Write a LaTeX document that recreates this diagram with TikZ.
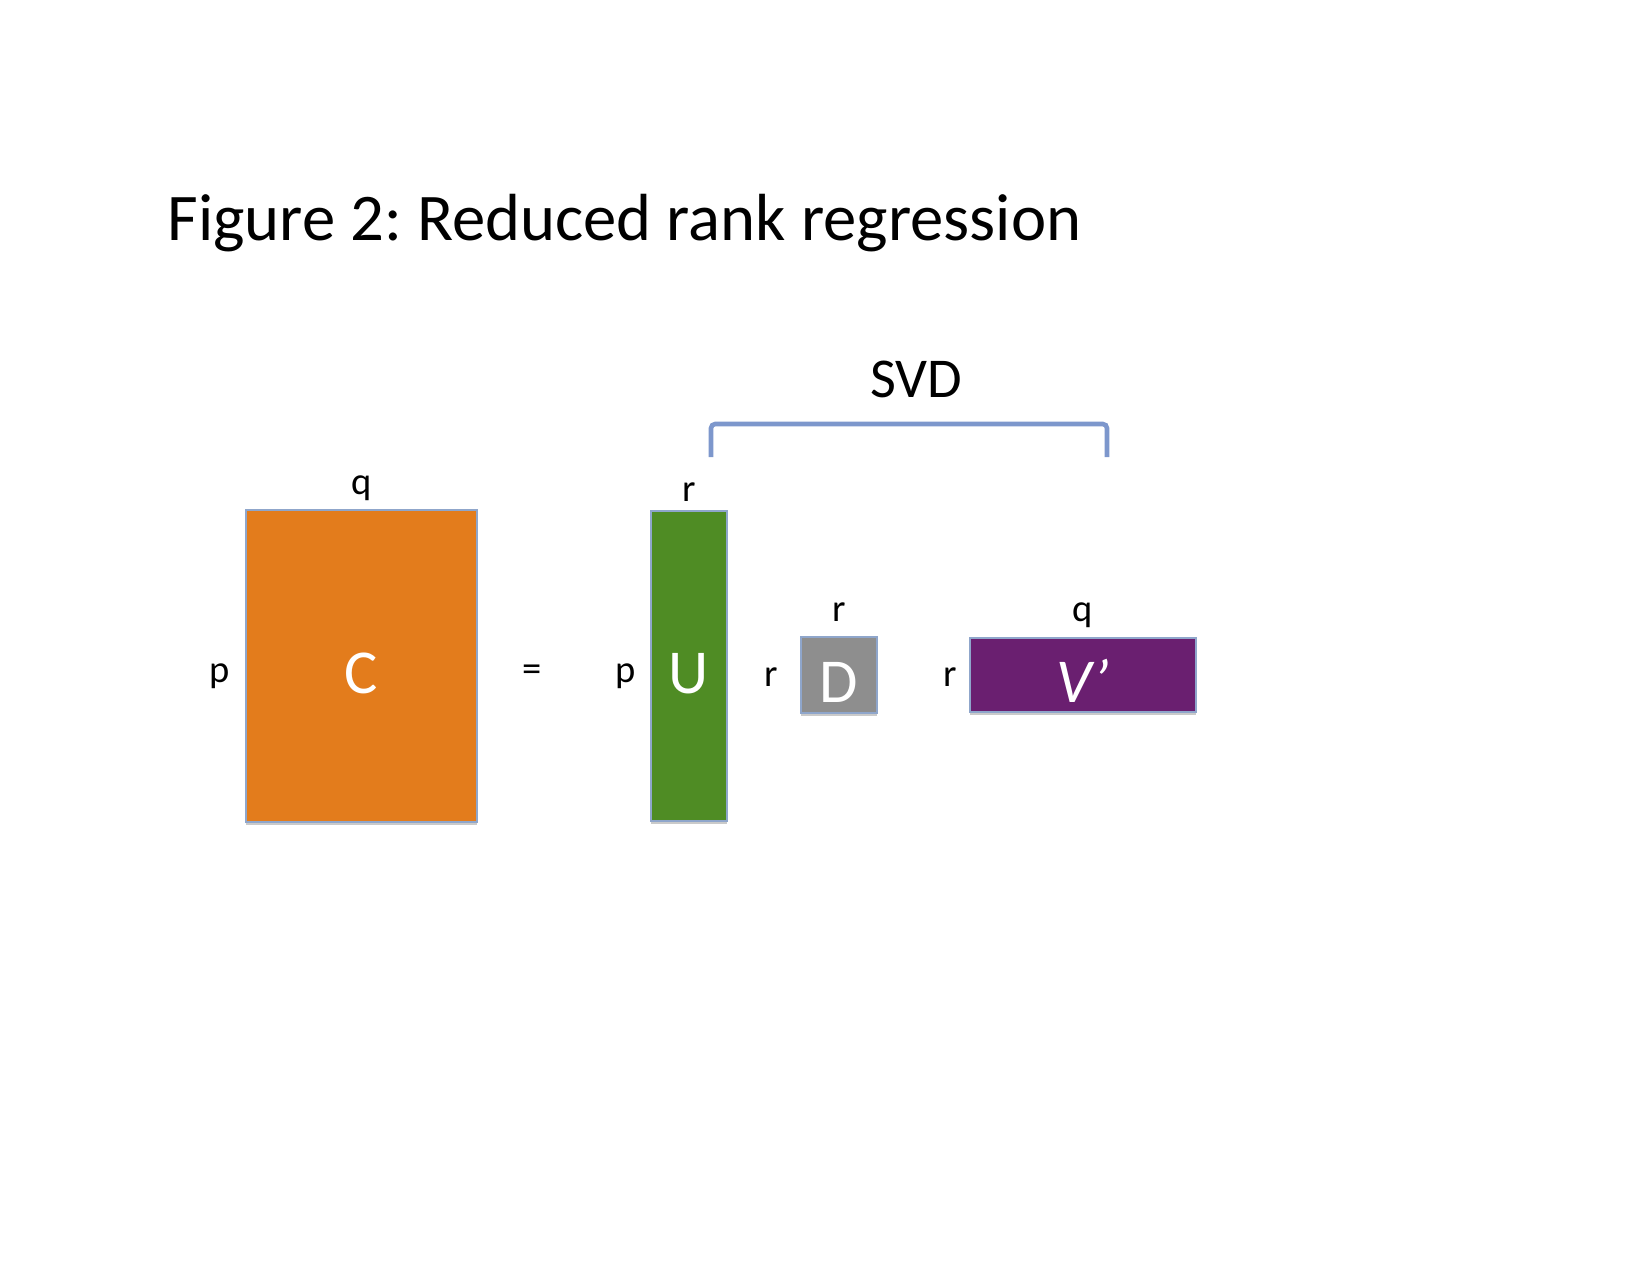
\documentclass[tikz,border=0pt]{standalone}
\usepackage{fontspec}
\setmainfont{Carlito}
\usetikzlibrary{positioning,shadows}
\definecolor{rrorange}{HTML}{E37C1C}
\definecolor{rrgreen}{HTML}{4F8C24}
\definecolor{rrgray}{HTML}{8E8E8E}
\definecolor{rrpurple}{HTML}{6A1F70}
\definecolor{rredge}{HTML}{8FA6CB}
\definecolor{rrbrace}{HTML}{7D97CC}
\frenchspacing
\tikzset{mat/.style={draw=rredge, line width=.6pt, inner sep=0pt, text=white,
		font=\fontsize{30}{36}\selectfont, text height=26pt, text depth=0pt,
		drop shadow={shadow xshift=0pt, shadow yshift=-1.5pt, opacity=.35, fill=black!60}},
	dim/.style={inner sep=0pt, text depth=0pt, font=\fontsize{18.5}{22}\selectfont}}

\begin{document}
\begin{tikzpicture}[x=0.48pt, y=-0.48pt]
		\useasboundingbox (0,0) rectangle (1650,1275);
		\node[anchor=base west, inner sep=0pt, font=\fontsize{32}{38}\selectfont] (title) at (167,240) {Figure 2: Reduced rank regression};
		% the product C = U D V'
		\node[mat, fill=rrorange, minimum width=110.9pt, minimum height=149.8pt] (C) at (361.5,666) {C};
		\node[mat, fill=rrgreen, minimum width=36.5pt, minimum height=148.8pt] (U) at (689,666) {U};
		\node[mat, fill=rrgray, minimum width=36.5pt, minimum height=36.5pt] (D) at (839,675) {D};
		\node[mat, fill=rrpurple, minimum width=108.5pt, minimum height=35.5pt] (V) at (1083,675) {\textit{V\char"27}};
		\node[dim] (eq) at (532,673) {=};
		\node[dim, above=7pt of C] (Cq) {q};
		\node[dim, left=7.5pt of C, yshift=-3.5pt] (Cp) {p};
		\node[dim, above=4pt of U] (Ur) {r};
		\node[dim, left=7pt of U, yshift=-3.5pt] (Up) {p};
		\node[dim, above=7pt of D] (Dr) {r};
		\node[dim, left=10.5pt of D, yshift=-1.2pt] (Dl) {r};
		\node[dim, above=7.5pt of V] (Vq) {q};
		\node[dim, left=6pt of V, yshift=-1.2pt] (Vr) {r};
		% bracket over U D V'
		\coordinate (svdL) at (711,457);
		\coordinate (svdR) at (1107,457);
		\draw[rrbrace, line width=2.2pt, rounded corners=2pt] (svdL)--++(0,-33) -| (svdR);
		\node[anchor=base, inner sep=0pt, font=\fontsize{27}{32}\selectfont] (svd) at (916,397) {SVD};
		\end{tikzpicture}
\end{document}
